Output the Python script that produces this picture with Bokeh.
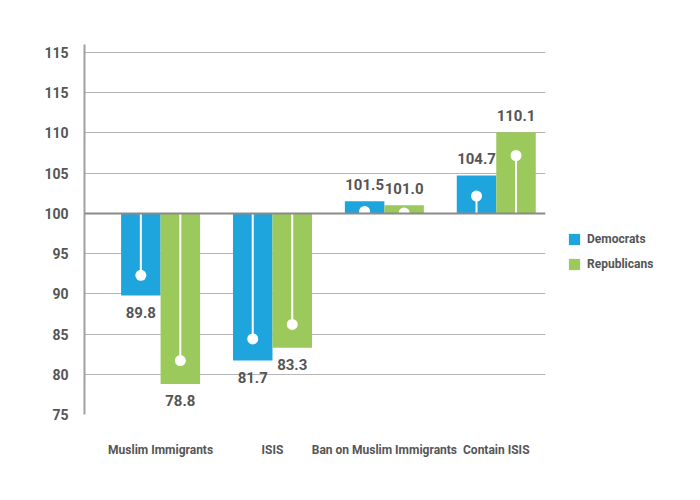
from bokeh.plotting import figure
from bokeh.models import ColumnDataSource, Span, Legend, LegendItem, FixedTicker
from bokeh.transform import dodge
from bokeh.core.properties import value
from bokeh.embed import file_html
from bokeh.resources import INLINE

categories = ["Muslim Immigrants", "ISIS", "Ban on Muslim Immigrants", "Contain ISIS"]
democrats = [89.8, 81.7, 101.5, 104.7]
republicans = [78.8, 83.3, 101.0, 110.1]
dem_marker = [92.3, 84.4, 100.25, 102.15]
rep_marker = [81.7, 86.2, 100.05, 107.2]
baseline = 100
y_ticks = [75, 80, 85, 90, 95, 100, 105, 110, 115, 120]
y_tick_labels = ["75", "80", "85", "90", "95", "100", "105", "110", "115", "115"]

BLUE = "#1ea5de"
GREEN = "#9bc95b"
TXT = "#555555"
FONT = "Roboto"

idx = list(range(len(categories)))
src = ColumnDataSource(dict(
    x=idx,
    dem=democrats, rep=republicans,
    dem_m=dem_marker, rep_m=rep_marker,
    base=[baseline] * len(idx),
    dem_lbl=[f"{v:.1f}" for v in democrats],
    rep_lbl=[f"{v:.1f}" for v in republicans],
    dem_off=[17 if v < baseline else -17 for v in democrats],
    rep_off=[17 if v < baseline else -17 for v in republicans],
))

p = figure(frame_width=461, frame_height=370, output_backend="svg", toolbar_location=None,
           x_range=(-0.68, 3.44), y_range=(75, 121),
           min_border_left=84, min_border_top=44, min_border_bottom=70, min_border_right=0)
p.outline_line_color = None
p.background_fill_color = "white"
p.border_fill_color = "white"

W = 0.353
off = W / 2
bd = p.vbar(x=dodge("x", -off), width=W, bottom="base", top="dem", source=src,
            fill_color=BLUE, line_color=None)
br = p.vbar(x=dodge("x", off), width=W, bottom="base", top="rep", source=src,
            fill_color=GREEN, line_color=None)

for col in ["dem_m", "rep_m"]:
    o = -off if col == "dem_m" else off
    p.segment(x0=dodge("x", o), x1=dodge("x", o), y0="base", y1=col, source=src,
              line_color="white", line_width=2)
    p.scatter(x=dodge("x", o), y=col, source=src, size=11, fill_color="white",
              line_color=None, marker="circle")

p.add_layout(Span(location=baseline, dimension="width", line_color="#8a8a8a",
                  line_width=2, level="overlay"))

for col, lbl, yo, o in [("dem", "dem_lbl", "dem_off", -off), ("rep", "rep_lbl", "rep_off", off)]:
    p.text(x=dodge("x", o), y=col, text=lbl, y_offset=yo, source=src,
           text_align="center", text_baseline="middle",
           text_font=value(FONT), text_font_style="bold", text_font_size="15px",
           text_color=TXT)

# y axis
p.yaxis.ticker = FixedTicker(ticks=y_ticks)
p.yaxis.major_label_overrides = {t: l for t, l in zip(y_ticks, y_tick_labels)}
p.yaxis.major_tick_line_color = None
p.yaxis.minor_tick_line_color = None
p.yaxis.axis_line_color = "#a0a0a0"
p.yaxis.axis_line_width = 2
p.yaxis.major_label_text_font = FONT
p.yaxis.major_label_text_font_style = "bold"
p.yaxis.major_label_text_font_size = "14px"
p.yaxis.major_label_text_color = TXT
p.yaxis.major_label_standoff = 10
p.ygrid.ticker = FixedTicker(ticks=y_ticks)
p.ygrid.grid_line_color = "#b5b5b5"
p.ygrid.grid_line_width = 1
p.xgrid.grid_line_color = None

# x axis
p.xaxis.ticker = FixedTicker(ticks=idx)
p.xaxis.major_label_overrides = {i: c for i, c in zip(idx, categories)}
p.xaxis.axis_line_color = None
p.xaxis.major_tick_line_color = None
p.xaxis.minor_tick_line_color = None
p.xaxis.major_label_text_font = FONT
p.xaxis.major_label_text_font_style = "bold"
p.xaxis.major_label_text_font_size = "12px"
p.xaxis.major_label_text_color = TXT
p.xaxis.major_label_standoff = 22

legend = Legend(items=[LegendItem(label="Democrats", renderers=[bd]),
                       LegendItem(label="Republicans", renderers=[br])],
                location="top_left", orientation="vertical",
                title=" ", title_text_font_size="12px", title_standoff=152,
                glyph_width=14, glyph_height=14, label_standoff=6, spacing=11,
                padding=0, margin=22, border_line_color=None, background_fill_alpha=0,
                label_text_font=FONT, label_text_font_style="bold",
                label_text_font_size="12px", label_text_color=TXT)
p.add_layout(legend, "right")

open("out.html", "w").write(file_html(p, INLINE))
